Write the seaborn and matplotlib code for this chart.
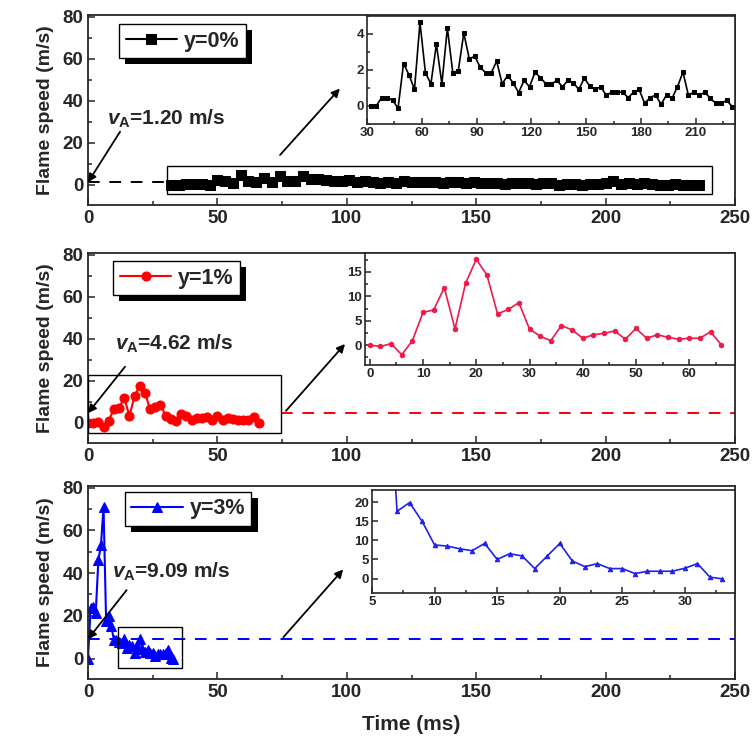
import matplotlib
matplotlib.use("Agg")
import matplotlib.pyplot as plt
import matplotlib.patheffects as pe
from matplotlib.patches import Rectangle
from matplotlib.ticker import MultipleLocator
import seaborn as sn

# ---- data ----
# y=0% : sampled every 3 ms
t_y0 = list(range(32, 237, 3))
v_y0 = [0.0, 0.0, 0.46, 0.46, 0.33, -0.13, 2.36, 1.73, 0.92, 4.64,
        1.84, 1.23, 3.44, 1.23, 4.33, 1.84, 1.97, 4.05, 2.62, 2.76,
        2.15, 1.84, 1.84, 2.49, 1.23, 1.69, 1.29, 0.74, 1.42, 1.07,
        1.88, 1.57, 1.23, 1.23, 1.42, 1.07, 1.42, 1.29, 0.92, 1.55,
        1.10, 0.92, 1.07, 0.59, 0.77, 0.77, 0.77, 0.46, 0.77, 0.92,
        0.15, 0.46, 0.61, 0.09, 0.61, 0.42, 1.07, 1.88, 0.59, 0.77,
        0.59, 0.77, 0.42, 0.15, 0.15, 0.31, -0.04, 0.05, 0.1]

# y=1% : sampled every 2 ms
t_y1 = list(range(0, 67, 2))
v_y1 = [0.0, -0.3, 0.3, -2.0, 0.9, 6.7, 7.2, 11.8, 3.3, 12.7,
        17.6, 14.4, 6.4, 7.3, 8.7, 3.3, 1.8, 0.9, 4.0, 3.1,
        1.4, 2.1, 2.4, 2.9, 1.2, 3.4, 1.4, 2.1, 1.6, 1.2,
        1.4, 1.4, 2.7, 0.1]

# y=3% : sampled every 1 ms
t_y3 = list(range(0, 34))
v_y3 = [0.0, 23.5, 24.0, 21.5, 46.0, 53.0, 71.0, 17.6, 19.9, 15.0,
        8.8, 8.5, 7.8, 7.3, 9.2, 5.0, 6.5, 5.9, 2.6, 5.9,
        9.2, 4.6, 3.1, 3.9, 2.6, 2.6, 1.3, 1.9, 1.9, 1.9,
        2.7, 3.9, 0.35, -0.1]

labels = ["y=0%", "y=1%", "y=3%"]
v_A = [1.20, 4.62, 9.09]

sn.set_style("ticks", {"xtick.direction": "in", "ytick.direction": "in"})
plt.rcParams["font.family"] = ["Liberation Sans", "DejaVu Sans"]
plt.rcParams["font.weight"] = "bold"
plt.rcParams["axes.labelweight"] = "bold"
plt.rcParams["mathtext.fontset"] = "custom"
plt.rcParams["mathtext.it"] = "Liberation Sans:italic:bold"
plt.rcParams["mathtext.rm"] = "Liberation Sans:bold"
plt.rcParams["mathtext.bf"] = "Liberation Sans:bold"
plt.rcParams["axes.linewidth"] = 1.3

W, H = 755, 751
fig = plt.figure(figsize=(W / 100, H / 100), dpi=100)


def px_axes(l, t, r, b):
    return fig.add_axes([l / W, 1 - b / H, (r - l) / W, (b - t) / H])


def style_ticks(ax, size, major=5, minor=3):
    ax.tick_params(which="both", direction="in", top=False, right=False,
                   labelsize=size, width=1.1)
    ax.tick_params(which="major", length=major)
    ax.tick_params(which="minor", length=minor)


main_boxes = [(88, 15, 735, 205), (88, 253, 735, 443), (88, 486, 735, 679)]
inset_boxes = [(367, 16, 735, 124), (365, 253, 735, 365), (372, 490, 735, 593)]

series = [(t_y0, v_y0), (t_y1, v_y1), (t_y3, v_y3)]
colors = ["black", "#ff0000", "#0000ff"]
inset_colors = ["black", "#ee1a4a", "#2020f0"]
markers = ["s", "o", "^"]

# box around the zoomed region (x0, x1, y0, y1)
zoom_rects = [(30.6, 241, -4.3, 9.1), (0, 74.5, -4.8, 22.8), (11.4, 36.4, -4.3, 14.7)]
# dashed v_A line extent
dash_span = [(0, 31), (74.5, 250), (0, 250)]
# text position, arrow to start point, arrow to inset
text_pos = [(7.3, 28.5), (10.4, 34.7), (9.1, 37.8)]
arrow_a = [((12.4, 25.3), (0, 1.2)), ((14.3, 26.7), (0, 4.62)), ((14.9, 32.0), (0, 9.09))]
arrow_b = [((74.2, 14.2), (97.3, 45.8)), ((76.5, 5.7), (99.3, 37.5)), ((75.5, 10.0), (98.6, 41.7))]
legend_anchor = [(0.048, 0.952), (0.039, 0.957), (0.057, 0.969)]

inset_xlim = [(30, 231.5), (-0.9, 68.6), (5, 34)]
inset_ylim = [(-1.0, 5.0), (-4.1, 18.9), (-3.8, 23.2)]
inset_xmaj = [30, 10, 5]
inset_xmin = [15, 5, 2.5]
inset_ymaj = [2, 5, 5]
inset_ymin = [1, 2.5, 5]

for i in range(3):
    t, v = series[i]
    ax = px_axes(*main_boxes[i])
    sn.lineplot(x=t, y=v, ax=ax, color=colors[i], marker=markers[i],
                markersize=6.5, markeredgecolor=colors[i], linewidth=1.5,
                label=labels[i], estimator=None, sort=False)
    ax.plot(dash_span[i], [v_A[i], v_A[i]], color=colors[i], lw=1.4,
            dashes=(6, 5), zorder=1)

    x0, x1, y0, y1 = zoom_rects[i]
    ax.add_patch(Rectangle((x0, y0), x1 - x0, y1 - y0, fill=False,
                           edgecolor="black", lw=1.0, zorder=3))

    ax.text(text_pos[i][0], text_pos[i][1],
            r"$\mathit{v}_\mathrm{A}$=%.2f m/s" % v_A[i],
            fontsize=15, fontweight="bold", va="baseline")
    for tail, head in (arrow_a[i], arrow_b[i]):
        ax.annotate("", xy=head, xytext=tail,
                    arrowprops=dict(arrowstyle="-|>", color="black", lw=1.3,
                                    mutation_scale=12, shrinkA=0, shrinkB=0))

    ax.set_xlim(0, 250)
    ax.set_ylim(-9.6, 80.8)
    ax.xaxis.set_major_locator(MultipleLocator(50))
    ax.xaxis.set_minor_locator(MultipleLocator(25))
    ax.yaxis.set_major_locator(MultipleLocator(20))
    ax.yaxis.set_minor_locator(MultipleLocator(10))
    style_ticks(ax, 13.5)
    ax.set_ylabel("Flame speed (m/s)", fontsize=14, labelpad=6)
    if i == 2:
        ax.set_xlabel("Time (ms)", fontsize=15, labelpad=10)
    else:
        ax.set_xlabel("")

    leg = ax.legend(loc="upper left", bbox_to_anchor=legend_anchor[i],
                    borderaxespad=0, fontsize=15.5, fancybox=False,
                    handlelength=2.4, handletextpad=0.3, borderpad=0.3,
                    framealpha=1)
    leg.get_frame().set_edgecolor("black")
    leg.get_frame().set_linewidth(1.0)
    leg.get_frame().set_path_effects([
        pe.SimplePatchShadow(offset=(4.5, -4.5), shadow_rgbFace="black", alpha=1),
        pe.Normal()])

    # inset
    axi = px_axes(*inset_boxes[i])
    sn.lineplot(x=t, y=v, ax=axi, color=inset_colors[i], marker=markers[i],
                markersize=3.2, markeredgecolor=inset_colors[i], linewidth=1.2,
                estimator=None, sort=False, legend=False)
    axi.set_xlim(*inset_xlim[i])
    axi.set_ylim(*inset_ylim[i])
    axi.xaxis.set_major_locator(MultipleLocator(inset_xmaj[i]))
    axi.xaxis.set_minor_locator(MultipleLocator(inset_xmin[i]))
    axi.yaxis.set_major_locator(MultipleLocator(inset_ymaj[i]))
    axi.yaxis.set_minor_locator(MultipleLocator(inset_ymin[i]))
    style_ticks(axi, 9.5, major=4, minor=2.5)
    axi.tick_params(pad=2)
    axi.set_xlabel("")
    axi.set_ylabel("")
    for s in axi.spines.values():
        s.set_linewidth(1.2)

fig.savefig("out.png", dpi=100)
